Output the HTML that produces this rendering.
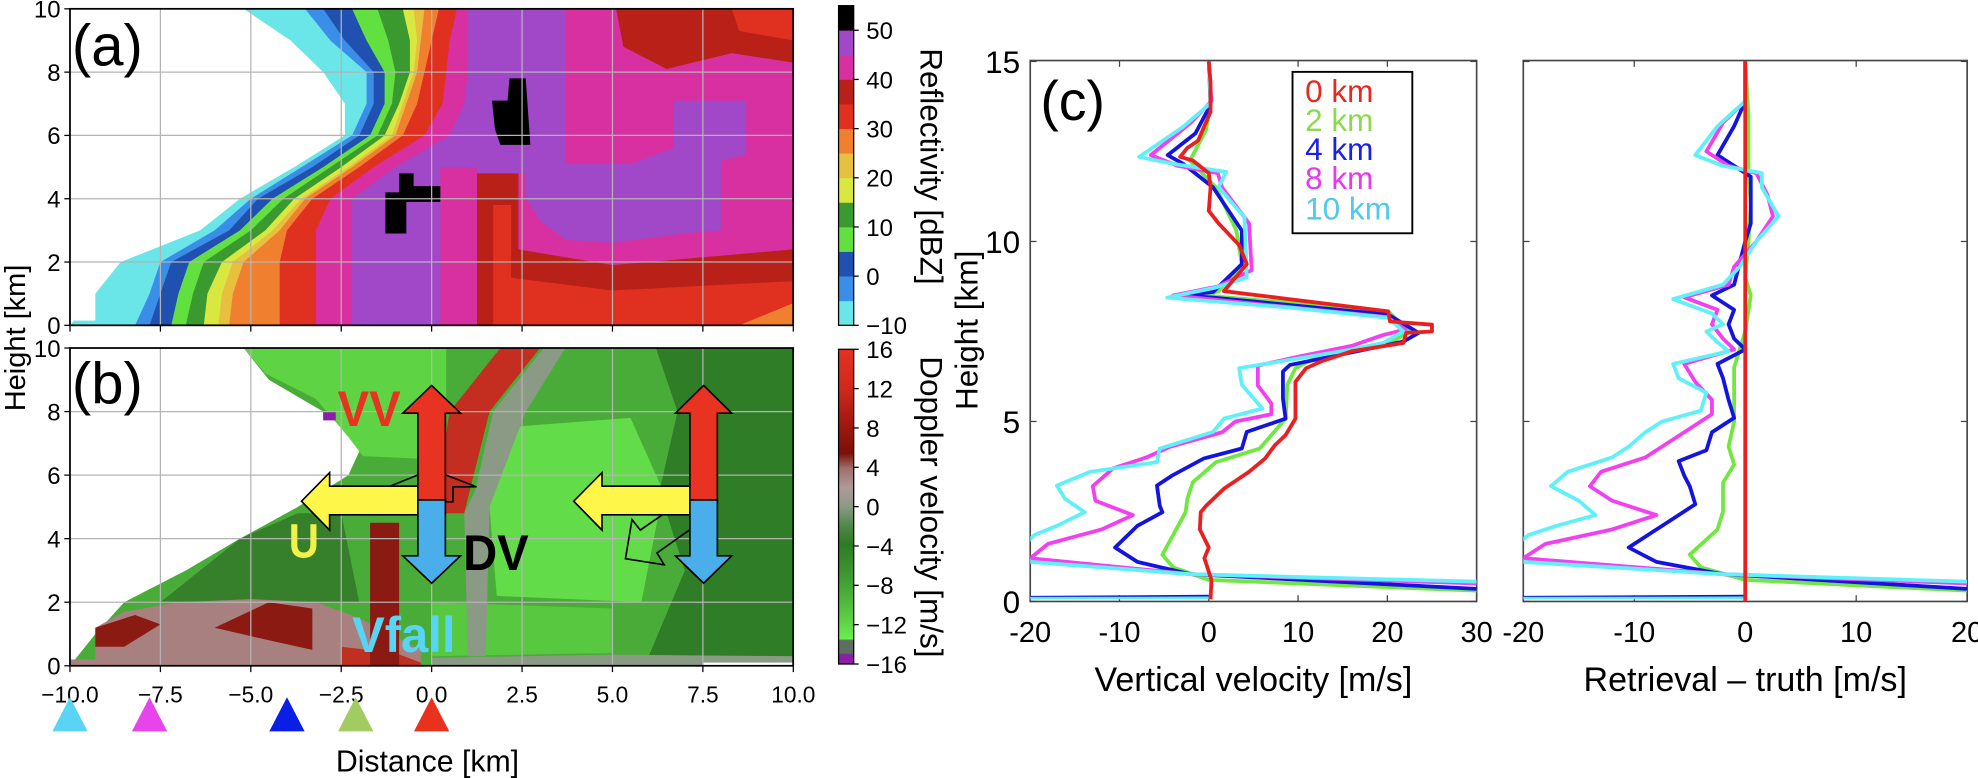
<!DOCTYPE html>
<html><head><meta charset="utf-8"><style>
html,body{margin:0;padding:0;background:#fff;}
svg{display:block;}
text{font-family:"Liberation Sans",sans-serif;}
.nar{font-family:"Liberation Sans Narrow","Liberation Sans",sans-serif;}
</style></head><body>
<svg id="fig" xmlns="http://www.w3.org/2000/svg" width="1978" height="778" viewBox="0 0 1568.6 617" preserveAspectRatio="none">
<defs>
<clipPath id="clipA"><rect x="55.5" y="7" width="573.5" height="251"/></clipPath>
<clipPath id="clipB"><rect x="55.5" y="276" width="573.5" height="252"/></clipPath>
<clipPath id="clipC1"><rect x="817" y="48" width="354" height="429"/></clipPath>
<clipPath id="clipC2"><rect x="1208" y="48" width="352" height="429"/></clipPath>
<linearGradient id="dopGrad" x1="0" y1="0" x2="0" y2="1">
<stop offset="0" stop-color="#e23222"/><stop offset="0.12" stop-color="#d02a1c"/>
<stop offset="0.22" stop-color="#a81a12"/><stop offset="0.33" stop-color="#7a1008"/>
<stop offset="0.38" stop-color="#a07070"/><stop offset="0.44" stop-color="#b09a98"/>
<stop offset="0.5" stop-color="#8a9a84"/><stop offset="0.56" stop-color="#4f8a48"/>
<stop offset="0.62" stop-color="#2e7a25"/><stop offset="0.75" stop-color="#45a336"/>
<stop offset="0.86" stop-color="#5cd044"/><stop offset="0.92" stop-color="#6aee50"/>
<stop offset="0.925" stop-color="#5c7060"/><stop offset="0.965" stop-color="#5c7060"/>
<stop offset="0.97" stop-color="#8a20a8"/><stop offset="1" stop-color="#8a20a8"/>
</linearGradient>
</defs>
<g id="gA" clip-path="url(#clipA)"></g>
<g id="gB" clip-path="url(#clipB)"></g>
<g id="gAx"></g>
<g id="gC1" clip-path="url(#clipC1)"></g>
<g id="gC2" clip-path="url(#clipC2)"></g>
<g id="gTop"></g>
</svg>
<script>
// ---------- data: reflectivity image (panel a) ----------
const H_LEV=[0,1,2,3,4,5,6,7,8,9,10];
const reflCyanEdge=[-10,-9.3,-8.6,-6.4,-5.3,-3.8,-2.4,-2.4,-3.0,-3.9,-5.2];
const reflLBlueEdge=[-8.2,-7.8,-7.5,-6.0,-5.0,-3.6,-2.2,-1.8,-1.8,-2.8,-3.5];
const reflDBlueEdge=[-7.8,-7.5,-7.2,-5.6,-4.8,-3.3,-2.0,-1.6,-1.6,-2.4,-3.0];
const reflLGreenEdge=[-7.2,-7.0,-6.7,-5.3,-4.4,-3.0,-1.7,-1.3,-1.3,-1.8,-2.2];
const reflGreenEdge=[-6.8,-6.6,-6.3,-5.0,-4.1,-2.8,-1.5,-1.1,-1.0,-1.2,-1.5];
const reflYellowEdge=[-6.3,-6.2,-5.8,-4.6,-3.8,-2.5,-1.3,-0.9,-0.6,-0.6,-0.8];
const reflGoldEdge=[-5.9,-5.8,-5.5,-4.4,-3.6,-2.3,-1.1,-0.8,-0.5,-0.4,-0.5];
const reflOrangeEdge=[-5.6,-5.5,-5.2,-4.2,-3.5,-2.2,-1.0,-0.7,-0.4,-0.3,-0.2];
const reflRedEdge=[-4.2,-4.2,-4.2,-4.0,-3.3,-2.0,-0.8,-0.4,-0.2,0.0,0.2];
const reflMagEdge=[-3.2,-3.2,-3.2,-3.2,-2.8,-1.6,-0.2,0.3,0.4,0.5,0.7];
const reflPurpleEdge=[-2.2,-2.2,-2.2,-2.2,-2.2,-1.0,0.5,0.9,1.0,1.0,1.0];
const reflPatchMagenta=[[3.7,10],[10,10],[10,2.4],[5,1.9],[2.4,2.4],[2.4,4.8],[3.7,5.0]];
const reflPatchMagCol=[[0.24,0],[1.25,0],[1.25,5.0],[0.24,5.0]];
const reflPatchPurple=[[2.6,5.1],[5.5,5.1],[6.7,5.6],[6.7,7.1],[8.7,7.1],[8.7,5.4],[8.0,5.2],[8.0,3.0],[7.0,2.9],[5.0,2.6],[3.7,2.7],[3.0,3.3],[2.6,4.0]];
const reflPatchDarkRed=[[1.25,0],[1.25,4.8],[2.4,4.8],[2.4,2.4],[5,1.9],[10,2.4],[10,0]];
const reflPatchRed=[[1.7,0],[1.7,3.8],[2.2,3.8],[2.2,1.5],[5,1.1],[10,1.4],[10,0]];
const reflPatchTopDark=[[5.1,10],[10,10],[10,8.3],[8.3,8.6],[6.5,8.1],[5.3,8.8]];
const reflPatchTopRed=[[8.3,10],[10,10],[10,9.0],[8.5,9.3]];
const reflPatchOrange=[[8.5,0],[10,0],[10,0.7]];
const reflPatchBlack1=[[-1.28,2.9],[-0.7,2.9],[-0.7,3.9],[0.24,3.9],[0.24,4.4],[-0.5,4.4],[-0.5,4.8],[-0.9,4.8],[-0.9,4.2],[-1.28,4.2]];
const reflPatchBlack2=[[1.9,5.7],[2.73,5.7],[2.6,7.8],[2.15,7.8],[2.1,7.1],[1.67,7.1],[1.75,6.2]];

// ---------- data: doppler image (panel b) ----------
const dopEchoEdge=[-10,-9.3,-8.5,-6.8,-5.3,-3.7,-2.3,-1.9,-3.0,-4.5,-5.2];
const dopDarkRight=[[6.2,10],[10,10],[10,0.3],[6,0.3],[7.0,3.0],[6.3,5.5],[6.8,8]];
const dopDarkLeft=[[-7.5,2.0],[-5.3,4.0],[-3.7,4.8],[-2.5,4.8],[-2.0,2.0]];
const dopLightUpper=[[-3.2,8.4],[-4.6,9.2],[-5.2,10],[0.4,10],[0.4,8],[0,6.5],[-1.9,6.6],[-2.3,7.2]];
const dopLightCenter=[[2.0,7.5],[5.5,7.8],[6.4,5.5],[5.8,2.0],[1.8,2.2],[1.6,5]];
const dopLightBottom=[[0,0.3],[0,2.0],[5,1.8],[5,0.4]];
const dopRedStreak=[[0.2,4.8],[0.9,4.8],[1.6,8],[3.0,10],[1.9,10],[0.5,8],[0.2,6]];
const dopGrayStreak=[[0.9,4.8],[1.0,0.3],[1.5,0.3],[1.6,5],[2.6,8],[3.7,10],[3.1,10],[1.7,8],[1.2,5.5]];
const dopLowerRose=[[-9.3,0.2],[-9.3,1.2],[-8.5,1.7],[-7,2.0],[-5,2.1],[-3.2,2.0],[-2.0,1.5],[-0.3,0.5],[-0.3,0],[-10,0],[-10,0.2]];
const dopLowerRed=[[-9.3,0.6],[-9.3,1.2],[-8.2,1.6],[-7.5,1.3],[-8.5,0.6]];
const dopLowerRed2=[[-6,1.2],[-4.5,2.0],[-3.3,1.8],[-3.3,0.5],[-4.5,0.8]];
const dopLowerRed3=[[-2.5,0],[-2.5,0.6],[-1,0.4],[-0.3,0.1],[-0.3,0]];
const dopRedColumn=[[-1.7,0],[-1.7,4.5],[-0.9,4.5],[-0.9,0]];
const dopBottomStrip=[[0,0],[10,0],[10,0.3],[5,0.35],[0,0.25]];

// ---------- data: vertical velocity profiles (panel c) ----------
const seriesNames=['0 km','2 km','4 km','8 km','10 km'];
const lineColors=['#e82020','#70e840','#1414e0','#f040f0','#60f0f8'];
const vvRedV=[0,0.2,0.2,-1.2,-2.4,-3.2,-1.8,0,0.2,0,1.1,3.4,4.25,1.7,20.1,20.3,25,25,22.1,21.8,16.0,12.6,10.9,9.7,9.7,8.6,7.4,6.3,4.5,1.7,-0.3,-0.9,-1,0,-0.5,0.3,0.2];
const vvRedH=[15,14.4,13.6,12.8,12.6,12.35,12.25,11.9,11.5,10.85,10.5,9.9,9.37,8.62,8.06,7.78,7.69,7.5,7.46,7.18,6.95,6.67,6.48,6.1,5.08,4.62,4.34,3.97,3.6,3.13,2.66,2.48,2.0,1.5,1.2,0.6,0.06];
const vvGreenV=[0,0.2,-0.3,-2.1,0.8,3.1,3.7,1.1,-0.6,20.1,22.4,20.6,12.6,9.7,8.8,8.6,5.7,0.8,-1.8,-2.4,-2.6,-5.2,-4,0,30];
const vvGreenH=[15,14,13.1,12.25,11.5,10.3,9.37,8.62,8.5,8.06,7.5,7.22,6.85,6.48,6.02,5.08,4.25,3.87,3.31,2.85,2.48,1.3,0.95,0.6,0.3];
const vvBlueV=[0,0.2,-1.5,-4.6,-2.9,0.5,3.7,3.7,0.5,-2.9,0.5,20.1,23.5,21.8,16.6,9.1,8.3,8.3,8.6,4.25,3.7,-0.6,-4.1,-5.8,-5.5,-5.2,-8,-10.5,-8,-2.1,30];
const vvBlueH=[15,13.8,13.0,12.4,12.16,11.5,10.3,9.37,8.6,8.5,8.44,7.97,7.46,7.22,6.95,6.57,6.39,5.64,5.08,4.71,4.25,3.97,3.5,3.22,2.66,2.48,2.1,1.5,1.1,0.76,0.35];
const vvMagV=[0,0.3,-2,-6.5,-3.5,1.0,1.5,4.5,4.8,1.0,-4.0,8,20,22,19.5,16,10,5.5,5.5,7,7.0,3,1.5,-4.3,-7,-10.7,-13.0,-12.7,-8.5,-12,-18,-20,-2.1,30];
const vvMagH=[15,13.9,13.3,12.4,12.1,11.9,11.5,10.5,9.2,8.75,8.5,8.2,7.9,7.55,7.4,7.1,6.8,6.55,6.0,5.5,5.2,5.0,4.7,4.3,4.0,3.7,3.2,2.8,2.4,2.0,1.6,1.2,0.76,0.5];
const vvCyanV=[0,0.2,-2.9,-7.8,-4.1,1.95,1.1,4.0,4.25,0.8,-4.65,9.1,20.1,21.8,19.5,14.9,3.4,3.7,6.0,1.7,0.5,-5.5,-5.8,-13.3,-17.0,-16.1,-13.9,-17,-19.5,-21,-20,-2.1,30];
const vvCyanH=[15,13.84,13.18,12.35,12.16,11.93,11.51,10.67,9.0,8.72,8.44,8.16,7.88,7.5,7.18,6.95,6.48,6.02,5.36,5.08,4.71,4.25,3.87,3.6,3.22,2.85,2.48,2.1,1.85,1.5,1.1,0.76,0.55];
const surfaceV=[0,-20];
const surfaceH=[0.15,0.12];
// retrieval minus truth
const errRedV=[0,0];
const errRedH=[15,0];
const errGreenV=[0,0.3,0.3,0.5,0.3,0,0.5,0,-0.5,-1,-1,-1,-1.5,-1,-2,-2,-2.5,-5,-4,0,20];
const errGreenH=[15,13.5,12,11,10,9,8.5,7.5,7,6.5,5.5,5,4.3,3.8,3.3,2.5,2.0,1.3,0.95,0.6,0.3];
const errBlueV=[0,0,-1,-2.5,-1,0.5,0.5,0.5,0,-0.5,-1,-3,-1,-1.5,-1,0,-2.5,-2,-1.5,-1,-3,-3.5,-6,-5.5,-5,-4.5,-7,-10.5,-8,-2.1,20];
const errBlueH=[15,13.9,13.2,12.4,12.1,11.8,11.2,10.5,10,9.4,8.8,8.5,8.1,7.7,7.3,7.0,6.6,6.2,5.6,5.1,4.7,4.2,3.9,3.5,3.2,2.7,2.2,1.5,1.1,0.76,0.35];
const errMagV=[0,0,-2,-3.5,-1.5,1,2,2.5,1,-1,-1.5,-5.5,-2.5,-3,-2,-1,-5.5,-4.5,-3,-3,-5,-7,-9,-13,-14,-12,-8,-12,-18,-20,-2.1,20];
const errMagH=[15,13.9,13.3,12.5,12.1,11.9,11.3,10.7,10,9.3,8.8,8.45,8.1,7.7,7.3,7.0,6.6,6.1,5.6,5.2,4.8,4.4,4.0,3.6,3.2,2.8,2.4,2.0,1.6,1.2,0.76,0.5];
const errCyanV=[0,0,-2.5,-4.5,-2,1.5,1.5,3,1,-0.5,-2,-6.5,-3,-2,-3.5,-2.5,-1.5,-6.5,-6,-3.5,-4,-7.5,-9,-10.5,-12,-16,-17.5,-15,-13.5,-17,-19.5,-21,-20,-2.1,20];
const errCyanH=[15,13.9,13.2,12.4,12.1,11.9,11.5,10.7,10.0,9.3,8.8,8.4,8.0,7.7,7.5,7.2,6.95,6.6,6.2,5.8,5.3,5.0,4.7,4.3,4.0,3.6,3.2,2.8,2.4,2.1,1.85,1.5,1.1,0.76,0.55];
// ticks
const distTicks=[-10,-7.5,-5,-2.5,0,2.5,5,7.5,10];
const heightTicks=[0,2,4,6,8,10];
const reflTicks=[-10,0,10,20,30,40,50];
const dopTicks=[-16,-12,-8,-4,0,4,8,12,16];
const cHeightTicks=[0,5,10,15];
const vvTicks=[-20,-10,0,10,20,30];
const errTicks=[-20,-10,0,10,20];
const triangleKm=[-10,-7.8,-4,-2.1,0];
const triangleColors=['#5ad4f4','#e844ec','#0a1ee6','#a2cc62','#e8321e'];

// ---------- axes ----------
const NS='http://www.w3.org/2000/svg';
function ax(k){return 342.3+28.68*k;}
function ay(h){return 258-25.1*h;}
function by(h){return 528-25.2*h;}
function cx1(v){return 817+(v+20)*7.08;}
function cx2(v){return 1384+v*8.8;}
function cy(h){return 477-28.55*h;}
function rY(v){return 258-(v+10)*3.9;}
function dY(v){return 277+(16-v)*7.8;}
function mk(tag,attrs,parent){const e=document.createElementNS(NS,tag);for(const k in attrs)e.setAttribute(k,attrs[k]);parent.appendChild(e);return e;}
function ptsKm(arr,fy){return arr.map(p=>ax(p[0]).toFixed(1)+','+fy(p[1]).toFixed(1)).join(' ');}
function bandPts(edge,fy){const p=edge.map((x,i)=>ax(x).toFixed(1)+','+fy(H_LEV[i]).toFixed(1));p.push(ax(10.5)+','+fy(10.5),ax(10.5)+','+fy(-0.5));return p.join(' ');}

const gA=document.getElementById('gA');
const edges=[reflCyanEdge,reflLBlueEdge,reflDBlueEdge,reflLGreenEdge,reflGreenEdge,reflYellowEdge,reflGoldEdge,reflOrangeEdge,reflRedEdge,reflMagEdge,reflPurpleEdge];
const bandCols=['#6ae6e8','#3a8ee8','#2050b0','#62e040','#3a9a30','#d8e840','#e8c040','#f08030','#e03020','#d830a0','#a048c8'];
edges.forEach((e,i)=>{
  const p=mk('polygon',{points:bandPts(e,ay),fill:bandCols[i]},gA);
  
  
});
[[reflPatchMagenta,'#d830a0'],[reflPatchPurple,'#a048c8'],[reflPatchDarkRed,'#b82018'],[reflPatchRed,'#e03020'],[reflPatchMagCol,'#d830a0'],[reflPatchTopDark,'#b82018'],[reflPatchTopRed,'#e03020'],[reflPatchOrange,'#f08030'],[reflPatchBlack1,'#000'],[reflPatchBlack2,'#000']].forEach(([arr,c])=>{
  const p=mk('polygon',{points:ptsKm(arr,ay),fill:c},gA);
  
  
});
mk('rect',{x:ax(-10),y:ay(1),width:ax(-9.3)-ax(-10),height:ay(0.15)-ay(1),fill:'#fff'},gA);

const gB=document.getElementById('gB');
{const p=dopEchoEdge.map((x,i)=>ax(x).toFixed(1)+','+by(H_LEV[i]).toFixed(1));p.push(ax(10.5)+','+by(10.5),ax(10.5)+','+by(-0.5));
 const e=mk('polygon',{points:p.join(' '),fill:'#4aac38'},gB);
 
 }
[[dopDarkRight,'#2f7d26'],[dopDarkLeft,'#367f2b'],[dopLightUpper,'#5ed444'],[dopLightCenter,'#62dc48'],[dopLightBottom,'#58c840'],[dopGrayStreak,'#8a9a84'],[dopRedStreak,'#c42e20'],[dopLowerRose,'#a88080'],[dopLowerRed,'#8a1a12'],[dopLowerRed2,'#8a1a12'],[dopLowerRed3,'#c03020'],[dopRedColumn,'#8a1a12'],[dopBottomStrip,'#8a9a84']].forEach(([arr,c])=>{
  const p=mk('polygon',{points:ptsKm(arr,by),fill:c},gB);
  
  
});
mk('rect',{x:ax(7.5),y:by(0.1),width:ax(10)-ax(7.5),height:by(0)-by(0.1),fill:'#fff'},gB);
mk('rect',{x:ax(-3),y:by(8),width:10,height:7,fill:'#8a20a8'},gB);

const gAx=document.getElementById('gAx');
[[ay,7,258,'a'],[by,276,528,'b']].forEach(([fy,top,bot,nm])=>{
  distTicks.slice(1,-1).forEach(t=>{mk('line',{x1:ax(t),x2:ax(t),y1:top,y2:bot,stroke:'#b4b4b4','stroke-width':1},gAx);});
  heightTicks.slice(1,-1).forEach(t=>{mk('line',{x1:55.5,x2:629,y1:fy(t),y2:fy(t),stroke:'#b4b4b4','stroke-width':1},gAx);});
  const fr=mk('rect',{x:55.5,y:top,width:573.5,height:bot-top,fill:'none',stroke:'#000','stroke-width':1.4},gAx);
  
  
  heightTicks.forEach(t=>{
    mk('line',{x1:51,x2:55.5,y1:fy(t),y2:fy(t),stroke:'#000','stroke-width':1},gAx);
    const tx=mk('text',{x:48,y:fy(t)+7,'text-anchor':'end','font-size':19},gAx);tx.textContent=t;
    
    
  });
  distTicks.forEach(t=>{mk('line',{x1:ax(t),x2:ax(t),y1:bot,y2:bot+5,stroke:'#000','stroke-width':1},gAx);});
});
distTicks.forEach(t=>{
  const tx=mk('text',{x:ax(t),y:557,'text-anchor':'middle','font-size':18},gAx);
  tx.textContent=(t<0?'\u2212':'')+Math.abs(t).toFixed(1);
  
  
});
triangleKm.forEach((k,i)=>{
  const x=ax(k);
  const p=mk('polygon',{points:`${x-14},580 ${x+14},580 ${x},553`,fill:triangleColors[i]},gAx);
  
  
});
{const cbx=665,cbw=12;
 [[-10,-5],[-5,0],[0,5],[5,10],[10,15],[15,20],[20,25],[25,30],[30,35],[35,40],[40,45],[45,50],[50,55]].forEach((r,i)=>{
   const c=['#6ae6e8','#3a8ee8','#2050b0','#62e040','#3a9a30','#d8e840','#e8c040','#f08030','#e03020','#b82018','#d830a0','#a048c8','#000'][i];
   mk('rect',{x:cbx,y:rY(r[1]),width:cbw,height:rY(r[0])-rY(r[1])+0.3,fill:c},gAx);
 });
 const f=mk('rect',{x:cbx,y:rY(55),width:cbw,height:rY(-10)-rY(55),fill:'none',stroke:'#000','stroke-width':1},gAx);
 
 
 reflTicks.forEach(t=>{mk('line',{x1:cbx+cbw,x2:cbx+cbw+4,y1:rY(t),y2:rY(t),stroke:'#000'},gAx);
   const tx=mk('text',{x:687,y:rY(t)+7,'font-size':19},gAx);tx.textContent=(t<0?'\u2212':'')+Math.abs(t);
   
   });
 const d=mk('rect',{x:cbx,y:dY(16),width:cbw,height:dY(-16)-dY(16),fill:'url(#dopGrad)',stroke:'#000','stroke-width':1},gAx);
 
 
 dopTicks.forEach(t=>{mk('line',{x1:cbx+cbw,x2:cbx+cbw+4,y1:dY(t),y2:dY(t),stroke:'#000'},gAx);
   const tx=mk('text',{x:687,y:dY(t)+7,'font-size':19},gAx);tx.textContent=(t<0?'\u2212':'')+Math.abs(t);
   
   });
}
[[cx1,817,1171,vvTicks,'c1'],[cx2,1208,1560,errTicks,'c2']].forEach(([fx,l,r,ticks,nm])=>{
  const fr=mk('rect',{x:l,y:48,width:r-l,height:429,fill:'none',stroke:'#444','stroke-width':1.3},gAx);
  
  
  ticks.forEach(t=>{
    mk('line',{x1:fx(t),x2:fx(t),y1:477,y2:472,stroke:'#444'},gAx);
    mk('line',{x1:fx(t),x2:fx(t),y1:48,y2:53,stroke:'#444'},gAx);
    const tx=mk('text',{x:fx(t),y:509,'text-anchor':'middle','font-size':23,class:'nar'},gAx);tx.textContent=t;
    
    
  });
  cHeightTicks.forEach(t=>{mk('line',{x1:l,x2:l+5,y1:cy(t),y2:cy(t),stroke:'#444'},gAx);mk('line',{x1:r,x2:r-5,y1:cy(t),y2:cy(t),stroke:'#444'},gAx);});
});
cHeightTicks.forEach(t=>{
  const tx=mk('text',{x:809,y:cy(t)+9,'text-anchor':'end','font-size':25,class:'nar'},gAx);tx.textContent=t;
  
  
});

function drawLine(g,fx,V,H,color,w,name){
  const pts=V.map((v,i)=>fx(v).toFixed(1)+','+cy(H[i]).toFixed(1)).join(' ');
  const p=mk('polyline',{points:pts,fill:'none',stroke:color,'stroke-width':w,'stroke-linejoin':'round'},g);
  
  
}
const gC1=document.getElementById('gC1'),gC2=document.getElementById('gC2');
const c1Sets=[[vvRedV,vvRedH],[vvGreenV,vvGreenH],[vvBlueV,vvBlueH],[vvMagV,vvMagH],[vvCyanV,vvCyanH]];
const c2Sets=[[errRedV,errRedH],[errGreenV,errGreenH],[errBlueV,errBlueH],[errMagV,errMagH],[errCyanV,errCyanH]];
[[gC1,cx1,c1Sets],[gC2,cx2,c2Sets]].forEach(([g,fx,sets])=>{
  drawLine(g,fx,surfaceV,surfaceH,lineColors[2],2,'surface-line');
  drawLine(g,fx,surfaceV,[0.1,0.09],lineColors[4],2,'surface-line');
  [1,2,3,4,0].forEach(i=>{
    const s=sets[i];
    drawLine(g,fx,s[0],s[1],lineColors[i],3,'profile-'+seriesNames[i].replace(' ','-'));
  });
});
</script>
<svg style="position:absolute;left:0;top:0;pointer-events:none" width="1978" height="778" viewBox="0 0 1568.6 617" preserveAspectRatio="none" xmlns="http://www.w3.org/2000/svg">
<g id="annot"></g>
<text x="57" y="52" font-size="46">(a)</text>
<text x="57" y="320" font-size="46">(b)</text>
<text x="825" y="95" font-size="44">(c)</text>
<text transform="translate(20,268) rotate(-90)" text-anchor="middle" font-size="23">Height [km]</text>
<text x="339" y="612" text-anchor="middle" font-size="24">Distance [km]</text>
<text transform="translate(730,132) rotate(90)" text-anchor="middle" font-size="25">Reflectivity [dBZ]</text>
<text transform="translate(730,402) rotate(90)" text-anchor="middle" font-size="25">Doppler velocity [m/s]</text>
<text transform="translate(775,262) rotate(-90)" text-anchor="middle" font-size="25" class="nar">Height [km]</text>
<text x="994" y="548" text-anchor="middle" font-size="27" class="nar">Vertical velocity [m/s]</text>
<text x="1384" y="548" text-anchor="middle" font-size="27" class="nar">Retrieval – truth [m/s]</text>
<g>
<rect x="1025" y="57" width="95" height="128" fill="#fff" stroke="#000" stroke-width="1.5"/>
<text x="1035" y="81" font-size="25" class="nar" fill="#e8281e">0 km</text>
<text x="1035" y="104" font-size="25" class="nar" fill="#8ed850">2 km</text>
<text x="1035" y="127" font-size="25" class="nar" fill="#1a20e6">4 km</text>
<text x="1035" y="150" font-size="25" class="nar" fill="#e838f0">8 km</text>
<text x="1035" y="174" font-size="25" class="nar" fill="#50c8f0">10 km</text>
</g>
</svg>
<script>
(function(){
const NS='http://www.w3.org/2000/svg';
function ax(k){return 342.3+28.68*k;}
function by(h){return 528-25.2*h;}
const g=document.getElementById('annot');
function poly(pts,fill,stroke,w,name){const e=document.createElementNS(NS,'polygon');
 e.setAttribute('points',pts.map(p=>ax(p[0]).toFixed(1)+','+by(p[1]).toFixed(1)).join(' '));
 e.setAttribute('fill',fill);e.setAttribute('stroke',stroke);e.setAttribute('stroke-width',w);
 
 
 g.appendChild(e);}
function arrowSet(xc,hw,hh,yl,tipx,outline){
  poly(outline,'none','#000',1.3,'dv-outline-arrow');
  poly([[xc,5.65],[yl,5.65],[yl,6.08],[tipx,5.18],[yl,4.27],[yl,4.75],[xc,4.75]],'#fff64a','#000',1.3,'u-arrow');
  poly([[xc-hw,5.22],[xc-hw,7.95],[xc-hh,7.95],[xc,8.82],[xc+hh,7.95],[xc+hw,7.95],[xc+hw,5.22]],'#e83222','#000',1.3,'vv-arrow');
  poly([[xc-hw,5.22],[xc-hw,3.46],[xc-hh,3.46],[xc,2.6],[xc+hh,3.46],[xc+hw,3.46],[xc+hw,5.22]],'#4aaeea','#000',1.3,'vfall-arrow');
}
arrowSet(0,0.38,0.8,-2.82,-3.6,[[-0.65,5.16],[-0.65,5.63],[-1.2,5.63],[0,6.18],[1.24,5.63],[0.59,5.63],[0.59,5.16]]);
arrowSet(7.52,0.38,0.78,4.71,3.93,[[7.25,5.44],[7.71,4.74],[6.23,3.55],[6.43,3.18],[5.36,3.37],[5.54,4.6],[5.77,4.27]]);
function txt(s,x,h,size,fill,name,len){const t=document.createElementNS(NS,'text');
 t.setAttribute('x',ax(x));t.setAttribute('y',by(h));t.setAttribute('font-size',size);t.setAttribute('font-weight','bold');t.setAttribute('fill',fill);
 if(len){t.setAttribute('textLength',len);t.setAttribute('lengthAdjust','spacingAndGlyphs');}
 
 
 t.textContent=s;g.appendChild(t);}
txt('VV',-2.6,7.55,40,'#e83222','vv-label',50);
txt('U',-3.95,3.4,38,'#f4f04a','u-label',24);
txt('DV',0.87,3.02,40,'#000','dv-label',52);
txt('Vfall',-2.2,0.44,40,'#58d4f4','vfall-label',82);
})();
</script>
</body></html>
